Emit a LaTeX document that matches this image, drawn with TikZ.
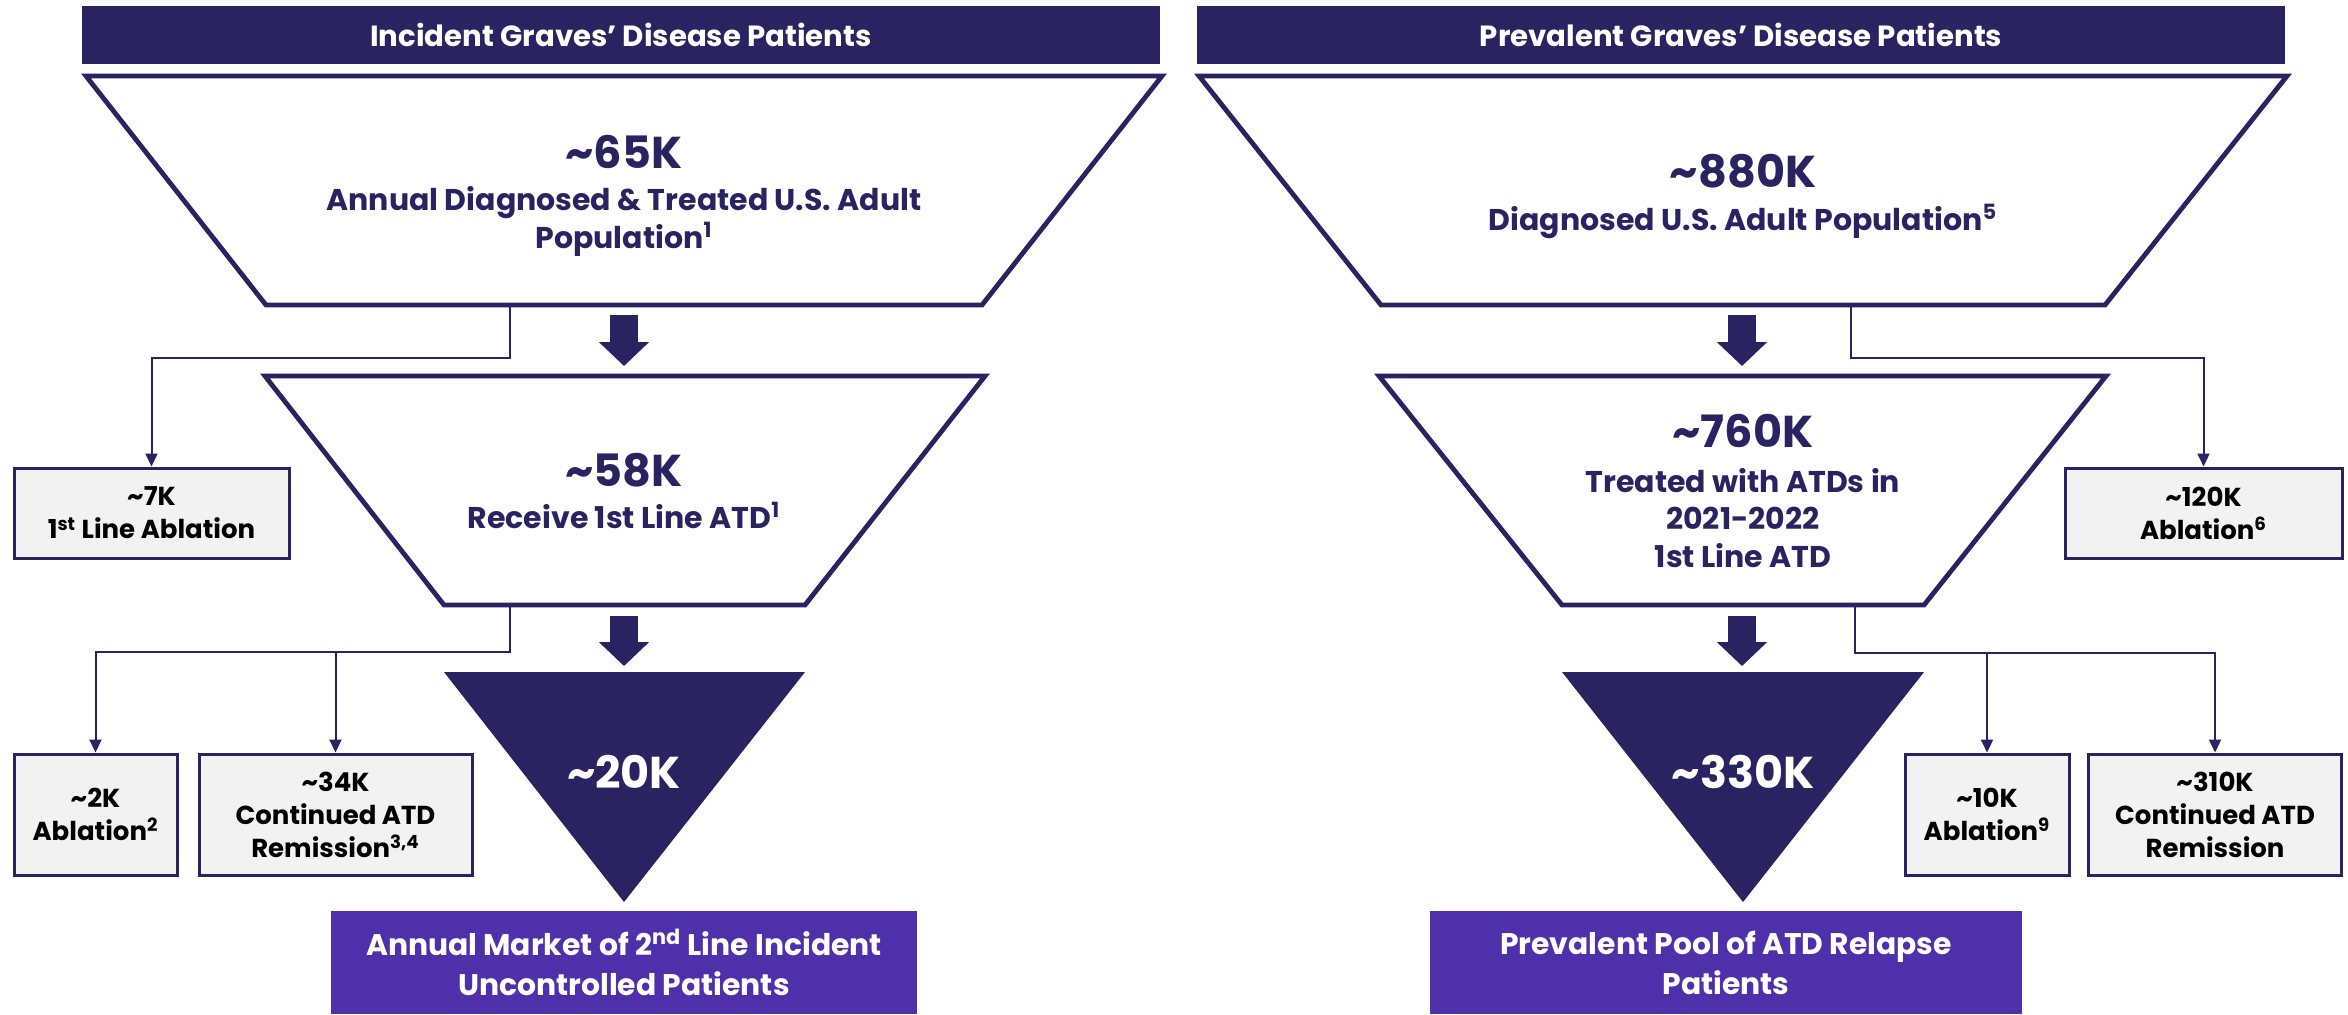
\documentclass[tikz,border=0pt]{standalone}
\usepackage{fontspec}
\setmainfont{Poppins}
\usepackage{xcolor}
\usetikzlibrary{arrows.meta}

\definecolor{gdnavy}{HTML}{292362}
\definecolor{gdpurple}{HTML}{4E31AA}
\definecolor{gdgray}{HTML}{F2F2F2}

\tikzset{
  funnel/.style={draw=gdnavy, line width=2.4pt, fill=white},
  header/.style={fill=gdnavy, text=white, inner sep=0pt, minimum height=29pt,
    font=\fontsize{14.6}{18.5}\selectfont\bfseries},
  bignum/.style={anchor=base, text=gdnavy, font=\fontsize{22.3}{28}\selectfont\bfseries},
  funtext/.style={anchor=base, align=center, text=gdnavy,
    font=\fontsize{15}{18.75}\selectfont\bfseries},
  sidebox/.style={draw=gdnavy, line width=1.5pt, fill=gdgray, inner sep=0pt,
    align=center, font=\fontsize{13}{16.5}\selectfont\bfseries},
  market/.style={fill=gdpurple, text=white, inner sep=0pt, align=center,
    minimum height=51.5pt, font=\fontsize{14.9}{20}\selectfont\bfseries},
  thin arrow/.style={gdnavy, line width=1pt, -{Triangle[length=6.5pt,width=6pt]}},
  big arrow/.style={gdnavy, line width=14pt, -{Triangle[length=12pt,width=24.5pt]}}
}

\begin{document}
\begin{tikzpicture}[x=0.5pt, y=-0.5pt]
\useasboundingbox (0,0) rectangle (2348,1014);

% incident side
\node[header, minimum width=539pt] (lhead) at (621,35) {Incident Graves’ Disease Patients};

\draw[funnel] (86,76)--(1162,76)--(982,305)--(266,305)--cycle;
\draw[funnel] (265,376)--(985,376)--(805,605)--(444,605)--cycle;
\path[fill=gdnavy] (444,672)--(805,672)--(624,902)--cycle;

\coordinate (lf1b) at (624,305);
\coordinate (lf2t) at (624,376);
\coordinate (lf2b) at (624,605);
\coordinate (ltrt) at (624,672);
\draw[big arrow, shorten <=5pt, shorten >=5pt] (lf1b) -- (lf2t);
\draw[big arrow, shorten <=5.5pt, shorten >=3pt] (lf2b) -- (ltrt);

\node[bignum] (lnum1) at (624,168) {\textasciitilde65K};
\node[funtext] (ltext1) at (624,248) {Annual Diagnosed \& Treated U.S. Adult\\Population\textsuperscript{1}};
\node[bignum] (lnum2) at (624,486) {\textasciitilde58K};
\node[funtext] (ltext2) at (624,528) {Receive 1st Line ATD\textsuperscript{1}};
\node[bignum, text=white] (lnum3) at (624,788) {\textasciitilde20K};

\node[sidebox, minimum width=137.5pt, minimum height=45pt] (lbox7) at (151.5,513)
  {\textasciitilde7K\\1\textsuperscript{st} Line Ablation};
\node[sidebox, minimum width=81.5pt, minimum height=60.5pt] (lbox2) at (95.5,814.5)
  {\textasciitilde2K\\Ablation\textsuperscript{2}};
\node[sidebox, minimum width=136.5pt, minimum height=60.5pt] (lbox34) at (335.5,814.5)
  {\textasciitilde34K\\Continued ATD\\Remission\textsuperscript{3,4}};

\coordinate (lsplit1) at (510,305);
\coordinate (lsplit2) at (510,605);
\draw[thin arrow] (lsplit1) -- ++(0,53) -| (lbox7.north);
\draw[thin arrow] (lsplit2) -- ++(0,47) -| (lbox2.north);
\draw[thin arrow] (lbox34.north |- 0,652) -- (lbox34.north);

\node[market, minimum width=293pt] (lmarket) at (624,962.5)
  {Annual Market of 2\textsuperscript{nd} Line Incident\\Uncontrolled Patients};

% prevalent side
\node[header, minimum width=544pt] (rhead) at (1741,35) {Prevalent Graves’ Disease Patients};

\draw[funnel] (1199,76)--(2287,76)--(2105,305)--(1381,305)--cycle;
\draw[funnel] (1379,376)--(2106,376)--(1924,605)--(1562,605)--cycle;
\path[fill=gdnavy] (1562,672)--(1924,672)--(1743,902)--cycle;

\coordinate (rf1b) at (1742,305);
\coordinate (rf2t) at (1742,376);
\coordinate (rf2b) at (1742,605);
\coordinate (rtrt) at (1742,672);
\draw[big arrow, shorten <=5pt, shorten >=5pt] (rf1b) -- (rf2t);
\draw[big arrow, shorten <=5.5pt, shorten >=3pt] (rf2b) -- (rtrt);

\node[bignum] (rnum1) at (1743,187) {\textasciitilde880K};
\node[funtext] (rtext1) at (1743,230) {Diagnosed U.S. Adult Population\textsuperscript{5}};
\node[bignum] (rnum2) at (1743,447) {\textasciitilde760K};
\node[funtext] (rtext2) at (1743,567) {Treated with ATDs in\\2021-2022\\1st Line ATD};
\node[bignum, text=white] (rnum3) at (1743,788) {\textasciitilde330K};

\node[sidebox, minimum width=138.5pt, minimum height=45pt] (rbox120) at (2203.5,513)
  {\textasciitilde120K\\Ablation\textsuperscript{6}};
\node[sidebox, minimum width=82pt, minimum height=60.5pt] (rbox10) at (1987,814.5)
  {\textasciitilde10K\\Ablation\textsuperscript{9}};
\node[sidebox, minimum width=126.5pt, minimum height=60.5pt] (rbox310) at (2215,814.5)
  {\textasciitilde310K\\Continued ATD\\Remission};

\coordinate (rsplit1) at (1851,305);
\coordinate (rsplit2) at (1855,605);
\draw[thin arrow] (rsplit1) -- ++(0,53) -| (rbox120.north);
\draw[thin arrow] (rsplit2) -- ++(0,48) -| (rbox310.north);
\draw[thin arrow] (rbox10.north |- 0,653) -- (rbox10.north);

\node[market, minimum width=296pt] (rmarket) at (1726,962.5)
  {Prevalent Pool of ATD Relapse\\Patients};
\end{tikzpicture}
\end{document}
